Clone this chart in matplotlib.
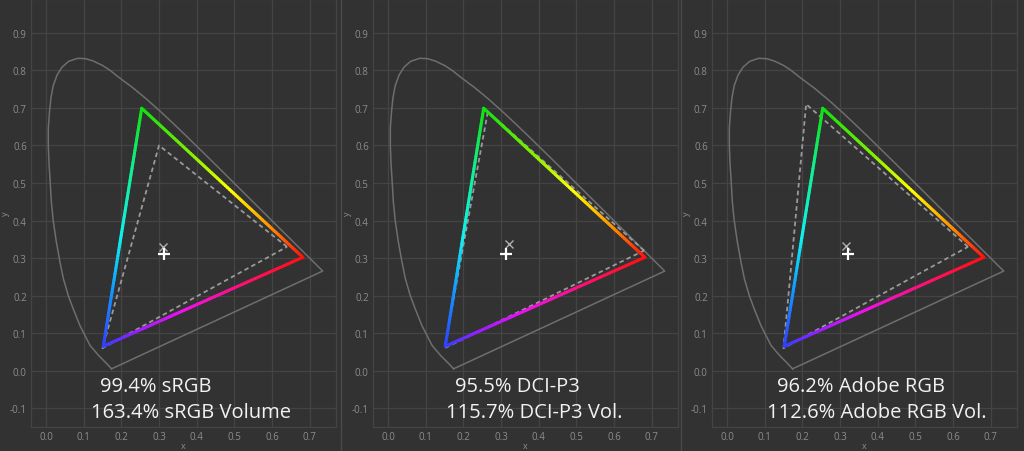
import numpy as np
import matplotlib
matplotlib.use('Agg')
import matplotlib.pyplot as plt
from matplotlib.collections import LineCollection
from matplotlib.colors import LinearSegmentedColormap
from matplotlib.lines import Line2D

plt.rcParams['font.family'] = ['Open Sans', 'DejaVu Sans']

# spectral locus outline (x, y)
locus_x = [0.1741, 0.160, 0.140, 0.117, 0.090, 0.072, 0.059, 0.046, 0.037, 0.027,
           0.019, 0.014, 0.011, 0.008, 0.006, 0.006, 0.009, 0.013, 0.019, 0.029,
           0.042, 0.060, 0.084, 0.105, 0.125, 0.150, 0.170, 0.1929, 0.2296, 0.2658,
           0.3016, 0.3373, 0.3731, 0.4087, 0.4441, 0.4788, 0.5125, 0.5448, 0.5752,
           0.6029, 0.6270, 0.6658, 0.6915, 0.7079, 0.7190, 0.7260, 0.7347, 0.1741]
locus_y = [0.0050, 0.020, 0.040, 0.067, 0.120, 0.165, 0.200, 0.245, 0.289, 0.345,
           0.400, 0.450, 0.502, 0.550, 0.599, 0.645, 0.688, 0.727, 0.759, 0.787,
           0.808, 0.824, 0.832, 0.831, 0.825, 0.813, 0.800, 0.7816, 0.7543, 0.7243,
           0.6923, 0.6589, 0.6245, 0.5896, 0.5547, 0.5202, 0.4866, 0.4544, 0.4242,
           0.3965, 0.3725, 0.3340, 0.3083, 0.2920, 0.2809, 0.2740, 0.2653, 0.0050]

# measured gamut (R, G, B)
meas_x = [0.682, 0.254, 0.152]
meas_y = [0.302, 0.699, 0.065]

# reference gamuts (R, G, B) per panel
ref_x = [[0.640, 0.300, 0.150], [0.680, 0.265, 0.150], [0.640, 0.210, 0.150]]
ref_y = [[0.330, 0.600, 0.060], [0.320, 0.690, 0.060], [0.330, 0.710, 0.060]]

ref_white_x = [0.311, 0.322, 0.317]
ref_white_y = [0.329, 0.338, 0.332]
meas_white_x = [0.314, 0.313, 0.320]
meas_white_y = [0.311, 0.311, 0.311]

line1 = ['99.4% sRGB', '95.5% DCI-P3', '96.2% Adobe RGB']
line2 = ['163.4% sRGB Volume', '115.7% DCI-P3 Vol.', '112.6% Adobe RGB Vol.']
text1_x = [0.143, 0.177, 0.133]
text2_x = [0.119, 0.153, 0.106]

ticks_x = [0.0, 0.1, 0.2, 0.3, 0.4, 0.5, 0.6, 0.7]
ticks_y = [-0.1, 0.0, 0.1, 0.2, 0.3, 0.4, 0.5, 0.6, 0.7, 0.8, 0.9]

BG = '#323232'
GRID = '#444444'
TICK = '#8c8c8c'

edge_maps = [
    LinearSegmentedColormap.from_list('gr', [(0, '#10e010'), (0.3, '#80f000'), (0.55, '#ffff00'),
                                             (0.8, '#ff9000'), (1, '#ff1010')]),
    LinearSegmentedColormap.from_list('rb', [(0, '#ff1010'), (0.25, '#ff1060'), (0.6, '#f010f0'),
                                             (0.85, '#9020ff'), (1, '#3040ff')]),
    LinearSegmentedColormap.from_list('bg', [(0, '#3040ff'), (0.25, '#10a0ff'), (0.45, '#10f0f0'),
                                             (0.75, '#10f090'), (1, '#10e010')]),
]

W, H = 1024, 452
fig = plt.figure(figsize=(W / 100, H / 100), dpi=100)
fig.patch.set_facecolor(BG)

offsets = [0, 342, 681]
for k in range(3):
    left = 31 + offsets[k]
    ax = fig.add_axes([left / W, (H - 428) / H, 305 / W, 428 / H])
    ax.set_facecolor(BG)
    ax.set_xlim(-0.04, 0.77)
    ax.set_ylim(-0.15, 0.99)
    ax.set_xticks(ticks_x)
    ax.set_yticks(ticks_y)
    ax.set_xticklabels([f'{t:.1f}' for t in ticks_x])
    ax.set_yticklabels([f'{t:.1f}' for t in ticks_y])
    ax.tick_params(colors=TICK, labelsize=7, length=0, pad=3)
    ax.grid(True, color=GRID, lw=0.9)
    ax.set_axisbelow(True)
    for s in ax.spines.values():
        s.set_color(GRID)
        s.set_linewidth(0.9)
    ax.set_xlabel('x', color=TICK, fontsize=6.5, labelpad=-1)
    ax.set_ylabel('y', color=TICK, fontsize=6.5, labelpad=0)

    ax.plot(locus_x, locus_y, color='#6e6e6e', lw=1.1, zorder=2)

    rx = ref_x[k] + [ref_x[k][0]]
    ry = ref_y[k] + [ref_y[k][0]]
    ax.plot(rx, ry, color='#9a9a9a', lw=1.3, dashes=(2.5, 1.8), zorder=3)

    order = [(1, 0), (0, 2), (2, 1)]
    for cmap, (a, b) in zip(edge_maps, order):
        t = np.linspace(0, 1, 80)
        px = meas_x[a] + (meas_x[b] - meas_x[a]) * t
        py = meas_y[a] + (meas_y[b] - meas_y[a]) * t
        pts = np.column_stack([px, py]).reshape(-1, 1, 2)
        segs = np.concatenate([pts[:-1], pts[1:]], axis=1)
        lc = LineCollection(segs, colors=cmap(t[:-1]), linewidths=2.2,
                            capstyle='round', zorder=4)
        ax.add_collection(lc)

    ax.plot(ref_white_x[k], ref_white_y[k], marker='x', color='#b0b0b0',
            ms=6, mew=1.0, zorder=5)
    ax.plot(meas_white_x[k], meas_white_y[k], marker='+', color='white',
            ms=8, mew=1.6, zorder=6)

    ax.text(text1_x[k], -0.053, line1[k], color='#f2f2f2', fontsize=14.5,
            va='baseline', ha='left', zorder=7)
    ax.text(text2_x[k], -0.123, line2[k], color='#f2f2f2', fontsize=14.5,
            va='baseline', ha='left', zorder=7)

for xs in [341, 681]:
    fig.add_artist(Line2D([xs / W, xs / W], [0, 1], color='#4a4a4a', lw=1.0))

fig.savefig('out.png', dpi=100, facecolor=BG)
